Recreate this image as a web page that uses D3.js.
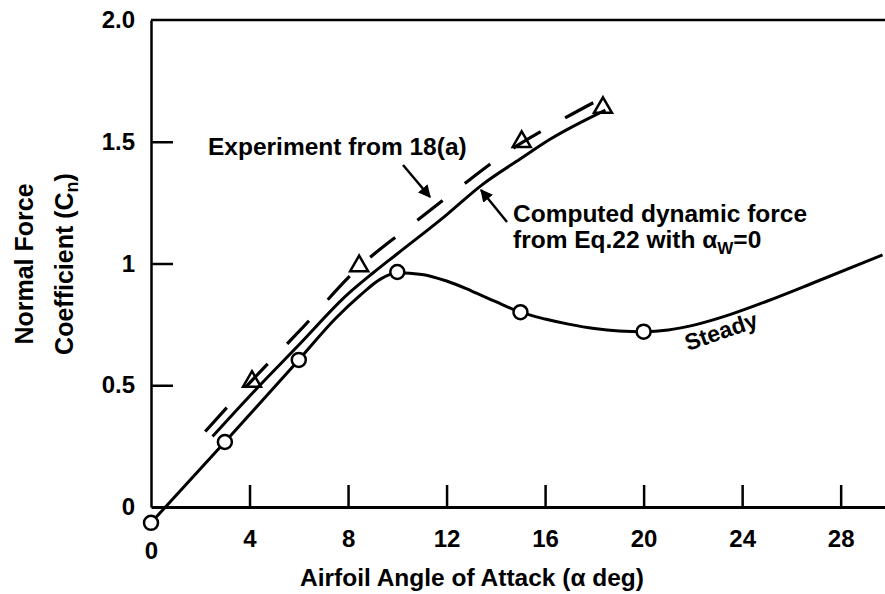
<!DOCTYPE html>
<html><head><meta charset="utf-8">
<script src="https://cdn.jsdelivr.net/npm/d3@7"></script>
<style>
html,body{margin:0;padding:0;background:#fff;}
text{font-family:"Liberation Sans",Arial,Helvetica,sans-serif;font-weight:bold;fill:#000;}
</style></head>
<body><svg id="c" width="885" height="594"></svg>
<script>
// ---- data ----
const xTicks = [0, 4, 8, 12, 16, 20, 24, 28];
const yTicks = [0, 0.5, 1, 1.5, 2.0];
const yTickLabels = ["0", "0.5", "1", "1.5", "2.0"];

// Steady curve (solid line) and its circle markers
const steadyAlpha = [0, 3, 6, 7.5, 8.5, 9.3, 10, 11, 12, 13, 14, 15, 16, 17, 18, 19, 20, 21, 22, 23.5, 25, 27, 29.7];
const steadyCn    = [-0.065, 0.267, 0.604, 0.775, 0.87, 0.935, 0.962, 0.955, 0.928, 0.888, 0.843, 0.80, 0.772, 0.75, 0.733, 0.723, 0.72, 0.727, 0.746, 0.79, 0.845, 0.925, 1.035];
const steadyMarkAlpha = [0, 3, 6, 10, 15, 20];
const steadyMarkCn    = [-0.065, 0.267, 0.604, 0.965, 0.80, 0.72];

// Computed dynamic force (solid line)
const compAlpha = [2.5, 4, 6, 8, 9, 10, 12, 13.4, 15, 16.2, 18.45];
const compCn    = [0.29, 0.455, 0.665, 0.875, 0.96, 1.04, 1.2, 1.32, 1.43, 1.51, 1.63];

// Experiment (dashed line) and triangle markers
const expAlpha = [2.2, 4.1, 6, 8.5, 10.4, 12.5, 14.5, 16.5, 18.7];
const expCn    = [0.31, 0.52, 0.72, 0.99, 1.145, 1.31, 1.46, 1.58, 1.70];
const expMarkAlpha = [4.1, 8.45, 15.05, 18.35];
const expMarkCn    = [0.515, 0.99, 1.50, 1.64];

// ---- chart ----
const svg = d3.select("#c");
const x = d3.scaleLinear().domain([0, 29.8]).range([151, 885]);
const y = d3.scaleLinear().domain([0, 2]).range([507, 20]);

// top frame line
svg.append("line").attr("x1", x(0)).attr("x2", x(29.8)).attr("y1", y(2)).attr("y2", y(2))
  .attr("stroke", "#000").attr("stroke-width", 2.5);

const xAxis = svg.append("g").attr("transform", `translate(0,${y(0)})`)
  .call(d3.axisBottom(x).tickValues(xTicks).tickSizeInner(-22).tickSizeOuter(0).tickPadding(23).tickFormat(d3.format("d")));
xAxis.select(".domain").attr("stroke-width", 3);
xAxis.selectAll(".tick line").attr("stroke-width", 2.5);
xAxis.selectAll(".tick text").attr("font-size", 24).attr("font-family", null);
xAxis.selectAll(".tick").filter(d => d === 0).select("text").attr("y", 35);
xAxis.selectAll(".tick").filter(d => d === 0).select("line").remove();

const yAxis = svg.append("g").attr("transform", `translate(${x(0)},0)`)
  .call(d3.axisLeft(y).tickValues(yTicks).tickSizeInner(-22).tickSizeOuter(0).tickPadding(16)
    .tickFormat((d, i) => yTickLabels[i]));
yAxis.select(".domain").attr("stroke-width", 2.5);
yAxis.selectAll(".tick line").attr("stroke-width", 2.5);
yAxis.selectAll(".tick text").attr("font-size", 24).attr("font-family", null);
yAxis.selectAll(".tick").filter(d => d === 0 || d === 2).select("line").remove();
svg.selectAll(".tick text").attr("fill", "#000");
svg.selectAll(".domain, .tick line").attr("stroke", "#000");

// axis titles
svg.append("text").attr("x", 472).attr("y", 586).attr("text-anchor", "middle")
  .attr("font-size", 24.5).text("Airfoil Angle of Attack (\u03b1 deg)");
svg.append("text").attr("transform", "translate(33,264) rotate(-90)").attr("text-anchor", "middle")
  .attr("font-size", 25).text("Normal Force");
const t2 = svg.append("text").attr("transform", "translate(73,264) rotate(-90)").attr("text-anchor", "middle")
  .attr("font-size", 25);
t2.append("tspan").text("Coefficient (C");
t2.append("tspan").attr("font-size", 18).attr("dy", 5).text("n");
t2.append("tspan").attr("dy", -5).text(")");

// lines
const line = d3.line().x(d => x(d[0])).y(d => y(d[1])).curve(d3.curveMonotoneX);
svg.append("path").datum(d3.zip(steadyAlpha, steadyCn)).attr("d", line)
  .attr("fill", "none").attr("stroke", "#000").attr("stroke-width", 3);
svg.append("path").datum(d3.zip(compAlpha, compCn)).attr("d", line)
  .attr("fill", "none").attr("stroke", "#000").attr("stroke-width", 3);
svg.append("path").datum(d3.zip(expAlpha, expCn)).attr("d", line)
  .attr("fill", "none").attr("stroke", "#000").attr("stroke-width", 3.2)
  .attr("stroke-dasharray", "32,28");

// markers
svg.selectAll("circle.m").data(d3.zip(steadyMarkAlpha, steadyMarkCn)).join("circle")
  .attr("class", "m").attr("cx", d => x(d[0])).attr("cy", d => y(d[1])).attr("r", 7)
  .attr("fill", "#fff").attr("stroke", "#000").attr("stroke-width", 2.5);
const tri = d3.symbol().type(d3.symbolTriangle).size(140);
svg.selectAll("path.t").data(d3.zip(expMarkAlpha, expMarkCn)).join("path")
  .attr("class", "t").attr("d", tri)
  .attr("transform", d => `translate(${x(d[0])},${y(d[1])})`)
  .attr("fill", "none").attr("stroke", "#000").attr("stroke-width", 2.5);

// annotations
svg.append("defs").append("marker").attr("id", "ah").attr("viewBox", "0 0 10 10")
  .attr("refX", 9).attr("refY", 5).attr("markerWidth", 5).attr("markerHeight", 5)
  .attr("orient", "auto").attr("markerUnits", "strokeWidth")
  .append("path").attr("d", "M0,0 L10,5 L0,10 z").attr("fill", "#000");

svg.append("text").attr("x", 208).attr("y", 155).attr("font-size", 24.5).text("Experiment from 18(a)");
svg.append("line").attr("x1", 403).attr("y1", 165).attr("x2", 430).attr("y2", 197)
  .attr("stroke", "#000").attr("stroke-width", 2.5).attr("marker-end", "url(#ah)");

svg.append("text").attr("x", 513).attr("y", 222).attr("font-size", 24.5).text("Computed dynamic force");
const t3 = svg.append("text").attr("x", 513).attr("y", 248).attr("font-size", 24.5);
t3.append("tspan").text("from Eq.22 with \u03b1");
t3.append("tspan").attr("font-size", 17).attr("dy", 6).text("W");
t3.append("tspan").attr("dy", -6).text("=0");
svg.append("line").attr("x1", 507).attr("y1", 222).attr("x2", 481).attr("y2", 190)
  .attr("stroke", "#000").attr("stroke-width", 2.5).attr("marker-end", "url(#ah)");

svg.append("text").attr("transform", "translate(688,351) rotate(-19)").attr("font-size", 23).text("Steady");
</script></body></html>
